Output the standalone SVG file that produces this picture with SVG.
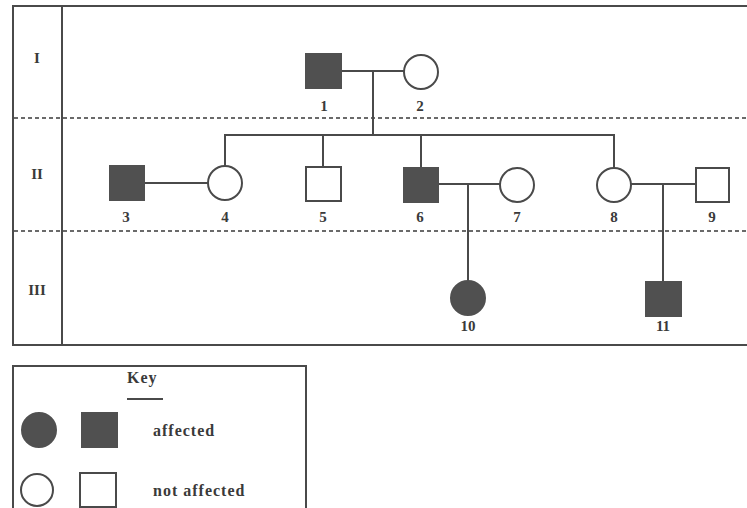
<svg xmlns="http://www.w3.org/2000/svg" width="747" height="508" viewBox="0 0 747 508">
<style>
.frame{fill:none;stroke:#4a4a4a;stroke-width:2}
.dash{fill:none;stroke:#6a6a6a;stroke-width:2;stroke-dasharray:4 3}
.line{fill:none;stroke:#4a4a4a;stroke-width:2}
.aff{fill:#505050;stroke:#505050;stroke-width:2}
.un{fill:#fff;stroke:#4a4a4a;stroke-width:2}
.lbl{font-family:"Liberation Serif",serif;font-size:15px;font-weight:bold;fill:#3a3a3a;text-anchor:middle}
.key{font-family:"Liberation Serif",serif;font-size:16px;font-weight:bold;fill:#3a3a3a;letter-spacing:1px}
</style>
<rect width="747" height="508" fill="#fff"/>
<g id="frame">
<path class="frame" d="M748 6 H13 V345 H748"/>
<line class="frame" x1="62" y1="6" x2="62" y2="345"/>
<line class="dash" x1="14" y1="118" x2="747" y2="118"/>
<line class="dash" x1="14" y1="231" x2="747" y2="231"/>
<text class="lbl" x="37" y="63">I</text>
<text class="lbl" x="37" y="179">II</text>
<text class="lbl" x="37" y="295">III</text>
</g>
<g id="connectors">
<line class="line" x1="341" y1="71" x2="404" y2="71"/>
<line class="line" x1="373" y1="71" x2="373" y2="135"/>
<path class="line" d="M225 166 V135 H614 V168"/>
<line class="line" x1="323" y1="135" x2="323" y2="167"/>
<line class="line" x1="421" y1="135" x2="421" y2="168"/>
<line class="line" x1="144" y1="183" x2="208" y2="183"/>
<line class="line" x1="438" y1="184" x2="500" y2="184"/>
<line class="line" x1="468" y1="184" x2="468" y2="281"/>
<line class="line" x1="631" y1="184" x2="696" y2="184"/>
<line class="line" x1="663" y1="184" x2="663" y2="282"/>
</g>
<g id="n1"><rect class="aff" x="306" y="54" width="35" height="34"/><text class="lbl" x="324" y="111">1</text></g>
<g id="n2"><circle class="un" cx="421" cy="72" r="17"/><text class="lbl" x="420" y="111">2</text></g>
<g id="n3"><rect class="aff" x="110" y="166" width="34" height="34"/><text class="lbl" x="126" y="222">3</text></g>
<g id="n4"><circle class="un" cx="225" cy="183" r="17"/><text class="lbl" x="225" y="222">4</text></g>
<g id="n5"><rect class="un" x="306" y="167" width="35" height="34"/><text class="lbl" x="323" y="222">5</text></g>
<g id="n6"><rect class="aff" x="404" y="168" width="34" height="34"/><text class="lbl" x="420" y="222">6</text></g>
<g id="n7"><circle class="un" cx="517" cy="185" r="17"/><text class="lbl" x="517" y="222">7</text></g>
<g id="n8"><circle class="un" cx="614" cy="185" r="17"/><text class="lbl" x="614" y="222">8</text></g>
<g id="n9"><rect class="un" x="696" y="168" width="33" height="34"/><text class="lbl" x="712" y="222">9</text></g>
<g id="n10"><circle class="aff" cx="468" cy="298" r="17"/><text class="lbl" x="468" y="331">10</text></g>
<g id="n11"><rect class="aff" x="646" y="282" width="35" height="34"/><text class="lbl" x="663" y="331">11</text></g>
<g id="key">
<path class="frame" d="M13 510 V366 H306 V510"/>
<text class="key" x="127" y="383">Key</text>
<line class="line" x1="127" y1="399" x2="163" y2="399" stroke-width="1.5"/>
<circle class="aff" cx="39" cy="430" r="17"/>
<rect class="aff" x="82" y="413" width="35" height="34"/>
<text class="key" x="153" y="436">affected</text>
<circle class="un" cx="37" cy="490" r="16"/>
<rect class="un" x="80" y="473" width="36" height="34"/>
<text class="key" x="153" y="496">not affected</text>
</g>
</svg>
